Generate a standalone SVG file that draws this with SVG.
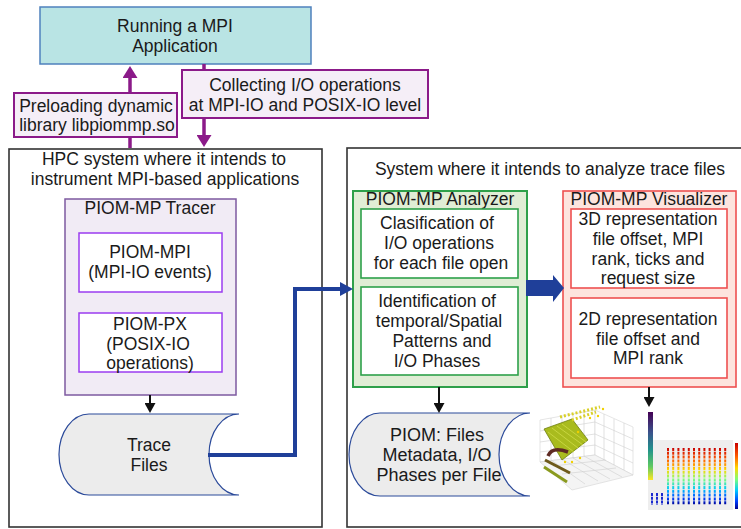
<svg xmlns="http://www.w3.org/2000/svg" width="741" height="529" viewBox="0 0 741 529">
<style>
.t{font-family:"Liberation Sans",Arial,sans-serif;font-size:17.5px;fill:#1a1a1a;text-anchor:middle}
.big{font-size:18px}
.frame{fill:#ffffff;stroke:#333333;stroke-width:1.6}
.plab{fill:#f5eef7;stroke:#8b1a89;stroke-width:2}
.inner-v{fill:#ffffff;stroke:#9b3cf0;stroke-width:1.5}
.inner-g{fill:#ffffff;stroke:#2ea04a;stroke-width:1.6}
.inner-r{fill:#ffffff;stroke:#ee5050;stroke-width:1.6}
.store{fill:#ececec;stroke:#2b4a9a;stroke-width:1.2}
.grid{stroke:#cfcfcf;stroke-width:0.6;fill:none}
</style>
<defs>
<marker id="ap" markerUnits="userSpaceOnUse" markerWidth="12" markerHeight="15" viewBox="0 0 12 15" refX="0" refY="7.5" orient="auto"><path d="M0,0 L12,7.5 L0,15 z" fill="#8b1a89"/></marker>
<marker id="ak" markerUnits="userSpaceOnUse" markerWidth="10" markerHeight="11" viewBox="0 0 10 11" refX="0" refY="5.5" orient="auto"><path d="M0,0 L10,5.5 L0,11 z" fill="#111111"/></marker>
<marker id="ab" markerUnits="userSpaceOnUse" markerWidth="13" markerHeight="14" viewBox="0 0 13 14" refX="0" refY="7" orient="auto"><path d="M0,0 L13,7 L0,14 z" fill="#1f3f99"/></marker>
<linearGradient id="vir" x1="0" y1="0" x2="0" y2="1"><stop offset="0" stop-color="#440154"/><stop offset="0.3" stop-color="#3b528b"/><stop offset="0.55" stop-color="#21918c"/><stop offset="0.8" stop-color="#5ec962"/><stop offset="1" stop-color="#fde725"/></linearGradient>
<linearGradient id="jet" gradientUnits="userSpaceOnUse" x1="0" y1="448" x2="0" y2="505"><stop offset="0" stop-color="#c80000"/><stop offset="0.2" stop-color="#ff5a00"/><stop offset="0.38" stop-color="#ffd800"/><stop offset="0.55" stop-color="#7dff7a"/><stop offset="0.72" stop-color="#00c8ff"/><stop offset="0.88" stop-color="#0040ff"/><stop offset="1" stop-color="#00008f"/></linearGradient>
<linearGradient id="jetbar" x1="0" y1="0" x2="0" y2="1"><stop offset="0" stop-color="#c80000"/><stop offset="0.2" stop-color="#ff5a00"/><stop offset="0.38" stop-color="#ffd800"/><stop offset="0.55" stop-color="#7dff7a"/><stop offset="0.72" stop-color="#00c8ff"/><stop offset="0.88" stop-color="#0040ff"/><stop offset="1" stop-color="#00008f"/></linearGradient>
</defs>

<g id="node-app">
<rect x="40" y="7" width="271" height="57" fill="#b9e4e4" stroke="#4f81bd" stroke-width="1.5"/>
<text class="t" x="175" y="32">Running a MPI</text>
<text class="t" x="175" y="52">Application</text>
</g>

<g id="node-hpc">
<rect class="frame" x="9" y="149" width="313" height="378"/>
<text class="t" x="164" y="165">HPC system where it intends to</text>
<text class="t" x="165" y="185">instrument MPI-based applications</text>
</g>

<g id="node-tracer">
<rect x="65" y="199" width="171" height="196" fill="#f1ebf5" stroke="#7d5aa0" stroke-width="1.5"/>
<text class="t" x="150" y="214">PIOM-MP Tracer</text>
</g>
<g id="node-piom-mpi">
<rect class="inner-v" x="79" y="233" width="143" height="59"/>
<text class="t" x="150" y="258">PIOM-MPI</text>
<text class="t" x="150" y="278">(MPI-IO events)</text>
</g>
<g id="node-piom-px">
<rect class="inner-v" x="79" y="313" width="143" height="59"/>
<text class="t" x="150" y="330">PIOM-PX</text>
<text class="t" x="148" y="350">(POSIX-IO</text>
<text class="t" x="150" y="369">operations)</text>
</g>

<g id="node-trace-files">
<path class="store" d="M89,414 H239 A30,40.5 0 0 0 239,495 H89 A30,40.5 0 0 1 89,414 Z"/>
<text class="t" x="149" y="451">Trace</text>
<text class="t" x="149" y="471">Files</text>
</g>

<g id="node-analysis-system">
<rect class="frame" x="347" y="148" width="410" height="379"/>
<text class="t" x="550" y="175">System where it intends to analyze trace files</text>
</g>

<g id="node-analyzer">
<rect x="353" y="191" width="174" height="196" fill="#e0edd5" stroke="#2ea04a" stroke-width="2"/>
<text class="t" x="440" y="205">PIOM-MP Analyzer</text>
</g>
<g id="node-clasif">
<rect class="inner-g" x="361" y="209" width="157" height="69"/>
<text class="t" x="437" y="229">Clasification of</text>
<text class="t" x="439" y="249">I/O operations</text>
<text class="t" x="441" y="269">for each file open</text>
</g>
<g id="node-ident">
<rect class="inner-g" x="361" y="287" width="157" height="88"/>
<text class="t" x="437" y="307">Identification of</text>
<text class="t" x="439" y="327">temporal/Spatial</text>
<text class="t" x="442" y="347">Patterns and</text>
<text class="t" x="437" y="367">I/O Phases</text>
</g>

<g id="node-visualizer">
<rect x="563" y="191" width="173" height="196" fill="#fde4de" stroke="#ee5050" stroke-width="1.6"/>
<text class="t" x="649" y="205">PIOM-MP Visualizer</text>
</g>
<g id="node-3d">
<rect class="inner-r" x="571" y="209" width="156" height="79"/>
<text class="t" x="648" y="225">3D representation</text>
<text class="t" x="648" y="245">file offset, MPI</text>
<text class="t" x="648" y="265">rank, ticks and</text>
<text class="t" x="648" y="284">request size</text>
</g>
<g id="node-2d">
<rect class="inner-r" x="571" y="298" width="156" height="80"/>
<text class="t" x="648" y="325">2D representation</text>
<text class="t" x="648" y="345">file offset and</text>
<text class="t" x="648" y="364">MPI rank</text>
</g>

<g id="node-piom-files">
<path class="store" d="M380,413 H530 A31,41.5 0 0 0 530,496 H380 A31,41.5 0 0 1 380,413 Z"/>
<text class="t big" x="437" y="441">PIOM: Files</text>
<text class="t big" x="437" y="461">Metadata, I/O</text>
<text class="t big" x="439" y="481">Phases per File</text>
</g>

<g id="plot-3d">
<polygon points="540,420 595,410 595,455 540,462" fill="#ffffff" stroke="#d4d4d4" stroke-width="0.6"/>
<polygon points="595,410 633,427 633,475 595,455" fill="#ffffff" stroke="#d4d4d4" stroke-width="0.6"/>
<polygon points="540,462 595,455 633,475 572,490" fill="#f4f4f4" stroke="#d4d4d4" stroke-width="0.6"/>
<path class="grid" d="M551,418 V460 M562,416 V459 M573,414 V458 M584,412 V456 M540,431 L595,422 M540,442 L595,434 M540,452 L595,445 M604,414 V460 M614,419 V465 M624,423 V470 M595,422 L633,439 M595,434 L633,451 M595,445 L633,463 M551,460 L585,484 M562,459 L598,481 M573,458 L610,479 M584,456 L622,477 M553,466 L606,460 M562,474 L616,468"/>
<polygon points="544,429 572,419 588,440 562,460" fill="#a9bb1e" stroke="#6f7f10" stroke-width="0.8"/>
<path d="M548,432 L574,452 M552,428 L578,448 M557,426 L583,445 M562,424 L586,442" stroke="#c8d640" stroke-width="1"/>
<path d="M560,417 L600,407 M572,420 L596,412" stroke="#d9d02a" stroke-width="3" stroke-dasharray="2 2"/>
<circle cx="603" cy="409" r="1.2" fill="#f0d000"/><circle cx="598" cy="416" r="1.2" fill="#f0d000"/><circle cx="590" cy="418" r="1.2" fill="#f0d000"/><circle cx="578" cy="432" r="1.2" fill="#f0d000"/><circle cx="565" cy="462" r="1.2" fill="#f0d000"/><circle cx="572" cy="462" r="1.2" fill="#f0d000"/><circle cx="580" cy="458" r="1.2" fill="#f0d000"/>
<path d="M568,452 Q552,446 548,456" stroke="#5e2a22" stroke-width="3.5" fill="none"/>
<path d="M545,460 L570,473" stroke="#6e5a1c" stroke-width="3"/>
<path d="M544,467 L567,482" stroke="#8a9a1e" stroke-width="3"/>
</g>

<g id="plot-2d">
<rect x="648" y="440" width="85" height="70" fill="#eeeeee"/>
<rect x="648" y="412" width="5" height="68" fill="url(#vir)"/>
<path d="M668,448 V505 M673.2,448 V505 M678.4,448 V505 M683.6,448 V505 M688.8,448 V505 M694,448 V505 M699.2,448 V505 M704.4,448 V505 M709.6,448 V505 M714.8,448 V505 M720,448 V505 M725.2,448 V505" stroke="url(#jet)" stroke-width="2" stroke-dasharray="3 0.8"/>
<path d="M652,493 V505 M657,493 V505 M662,493 V505" stroke="#1a2ad0" stroke-width="2" stroke-dasharray="3 0.8"/>
<rect x="735" y="443" width="3" height="66" fill="url(#jetbar)"/>
</g>

<g id="connectors">
<line x1="130" y1="148" x2="130" y2="78" stroke="#8b1a89" stroke-width="3.5" marker-end="url(#ap)"/>
<line x1="204" y1="64" x2="204" y2="135" stroke="#8b1a89" stroke-width="3.5" marker-end="url(#ap)"/>
<line x1="150" y1="395" x2="150" y2="403" stroke="#111111" stroke-width="2" marker-end="url(#ak)"/>
<line x1="439" y1="387" x2="439" y2="403" stroke="#111111" stroke-width="2" marker-end="url(#ak)"/>
<line x1="649" y1="387" x2="649" y2="397" stroke="#111111" stroke-width="2" marker-end="url(#ak)"/>
<polyline points="208,455 295,455 295,289 340,289" fill="none" stroke="#1f3f99" stroke-width="4" marker-end="url(#ab)"/>
<polygon points="526,280 553,280 553,275 564,288 553,302 553,296 526,296" fill="#1f3f99"/>
</g>

<g id="label-preload">
<rect class="plab" x="14" y="93" width="163" height="44"/>
<text class="t" x="96" y="112">Preloading dynamic</text>
<text class="t" x="97" y="131">library libpiommp.so</text>
</g>
<g id="label-collect">
<rect class="plab" x="182" y="70" width="246" height="48"/>
<text class="t" x="305" y="91">Collecting I/O operations</text>
<text class="t" x="305" y="111">at MPI-IO and POSIX-IO level</text>
</g>
</svg>
